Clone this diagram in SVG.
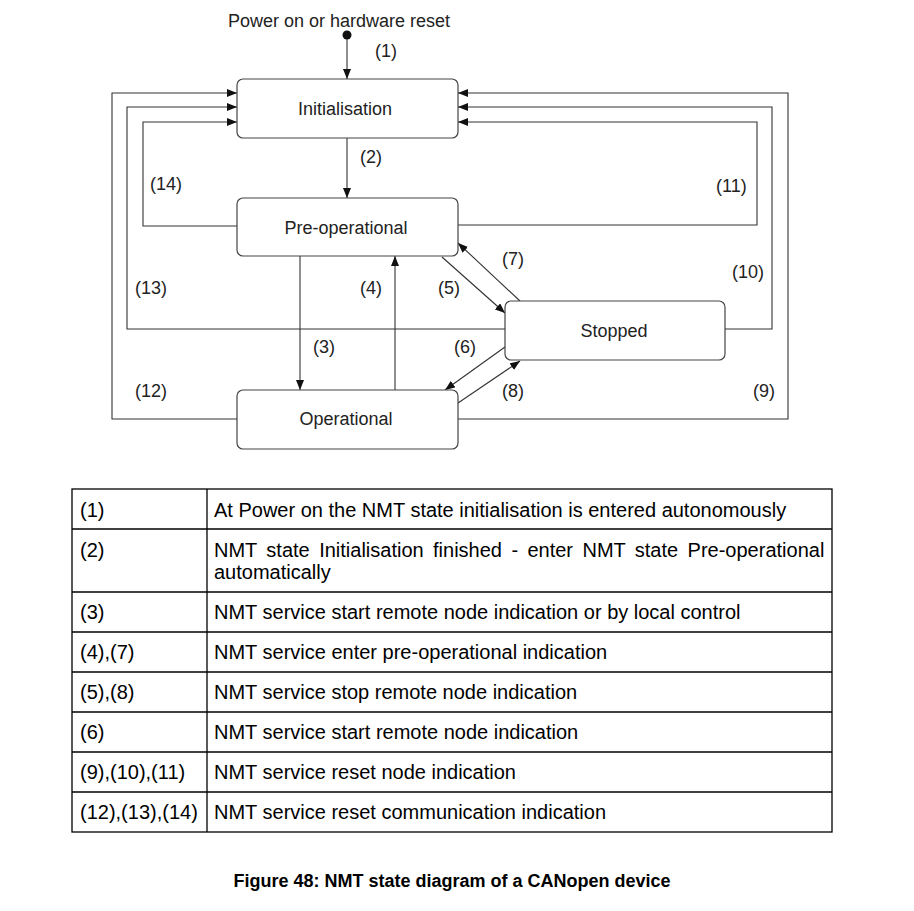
<svg xmlns="http://www.w3.org/2000/svg" width="914" height="911" viewBox="0 0 914 911">
<defs>
<marker id="ah" viewBox="0 0 10 8" refX="10" refY="4" markerWidth="10" markerHeight="8" markerUnits="userSpaceOnUse" orient="auto">
<path d="M0,0 L10,4 L0,8 Z" fill="#111"/>
</marker>
<style>
.node rect{fill:#fff;stroke:#444;stroke-width:1.2}
.node text{font-family:"Liberation Sans",Arial,sans-serif;font-size:18px;fill:#222;text-anchor:middle}
.conn path,.conn line{fill:none;stroke:#333;stroke-width:1.1}
.arr{marker-end:url(#ah)}
.lbl{font-family:"Liberation Sans",Arial,sans-serif;font-size:18px;fill:#222}
.tbl line,.tbl rect{stroke:#000;stroke-width:1.3;fill:none}
.tt{font-family:"Liberation Sans",Arial,sans-serif;font-size:20px;fill:#000}
.cap{font-family:"Liberation Sans",Arial,sans-serif;font-size:18px;font-weight:bold;fill:#000;text-anchor:middle}
</style>
</defs>
<rect width="914" height="911" fill="#fff"/>

<g id="connectors" class="conn">
<circle cx="347" cy="35" r="4.5" fill="#111"/>
<line class="arr" x1="347" y1="39" x2="347" y2="79"/>
<line class="arr" x1="347" y1="138" x2="347" y2="198"/>
<line class="arr" x1="300" y1="256" x2="300" y2="390"/>
<line class="arr" x1="395" y1="390" x2="395" y2="256"/>
<line class="arr" x1="442" y1="257" x2="505" y2="313"/>
<line class="arr" x1="520" y1="301" x2="458" y2="243"/>
<line class="arr" x1="505" y1="347" x2="445" y2="390"/>
<line class="arr" x1="458" y1="403" x2="520" y2="361"/>
<path class="arr" d="M237,226 H143 V122 H237"/>
<path class="arr" d="M505,329 H127 V107 H237"/>
<path class="arr" d="M237,419 H112 V93 H237"/>
<path class="arr" d="M458,225 H757 V122 H458"/>
<path class="arr" d="M725,329 H772 V107 H458"/>
<path class="arr" d="M458,419 H788 V93 H458"/>
</g>

<g id="labels">
<text class="lbl" x="228" y="27">Power on or hardware reset</text>
<text class="lbl" x="375" y="57">(1)</text>
<text class="lbl" x="360" y="163">(2)</text>
<text class="lbl" x="150" y="190">(14)</text>
<text class="lbl" x="716" y="192">(11)</text>
<text class="lbl" x="502" y="265">(7)</text>
<text class="lbl" x="732" y="278">(10)</text>
<text class="lbl" x="135" y="294">(13)</text>
<text class="lbl" x="360" y="294">(4)</text>
<text class="lbl" x="438" y="294">(5)</text>
<text class="lbl" x="313" y="353">(3)</text>
<text class="lbl" x="454" y="353">(6)</text>
<text class="lbl" x="135" y="397">(12)</text>
<text class="lbl" x="502" y="397">(8)</text>
<text class="lbl" x="753" y="397">(9)</text>
</g>

<g id="initialisation" class="node">
<rect x="237" y="79" width="221" height="59" rx="6"/>
<text x="345" y="115">Initialisation</text>
</g>
<g id="preoperational" class="node">
<rect x="237" y="198" width="221" height="58" rx="6"/>
<text x="346" y="234">Pre-operational</text>
</g>
<g id="operational" class="node">
<rect x="237" y="390" width="221" height="59" rx="6"/>
<text x="346" y="425">Operational</text>
</g>
<g id="stopped" class="node">
<rect x="505" y="301" width="220" height="59" rx="6"/>
<text x="614" y="337">Stopped</text>
</g>

<g id="table" class="tbl">
<rect x="72" y="489" width="760" height="343"/>
<line x1="207" y1="489" x2="207" y2="832"/>
<line x1="72" y1="529" x2="832" y2="529"/>
<line x1="72" y1="592" x2="832" y2="592"/>
<line x1="72" y1="632" x2="832" y2="632"/>
<line x1="72" y1="672" x2="832" y2="672"/>
<line x1="72" y1="712" x2="832" y2="712"/>
<line x1="72" y1="752" x2="832" y2="752"/>
<line x1="72" y1="792" x2="832" y2="792"/>
<text class="tt" x="80" y="517">(1)</text>
<text class="tt" x="214" y="517">At Power on the NMT state initialisation is entered autonomously</text>
<text class="tt" x="80" y="557">(2)</text>
<text class="tt" x="214" y="557" word-spacing="3.85">NMT state Initialisation finished - enter NMT state Pre-operational</text>
<text class="tt" x="214" y="579">automatically</text>
<text class="tt" x="80" y="619">(3)</text>
<text class="tt" x="214" y="619">NMT service start remote node indication or by local control</text>
<text class="tt" x="80" y="659">(4),(7)</text>
<text class="tt" x="214" y="659">NMT service enter pre-operational indication</text>
<text class="tt" x="80" y="699">(5),(8)</text>
<text class="tt" x="214" y="699">NMT service stop remote node indication</text>
<text class="tt" x="80" y="739">(6)</text>
<text class="tt" x="214" y="739">NMT service start remote node indication</text>
<text class="tt" x="80" y="779">(9),(10),(11)</text>
<text class="tt" x="214" y="779">NMT service reset node indication</text>
<text class="tt" x="80" y="819">(12),(13),(14)</text>
<text class="tt" x="214" y="819">NMT service reset communication indication</text>
</g>

<text class="cap" x="452" y="887">Figure 48: NMT state diagram of a CANopen device</text>
</svg>
